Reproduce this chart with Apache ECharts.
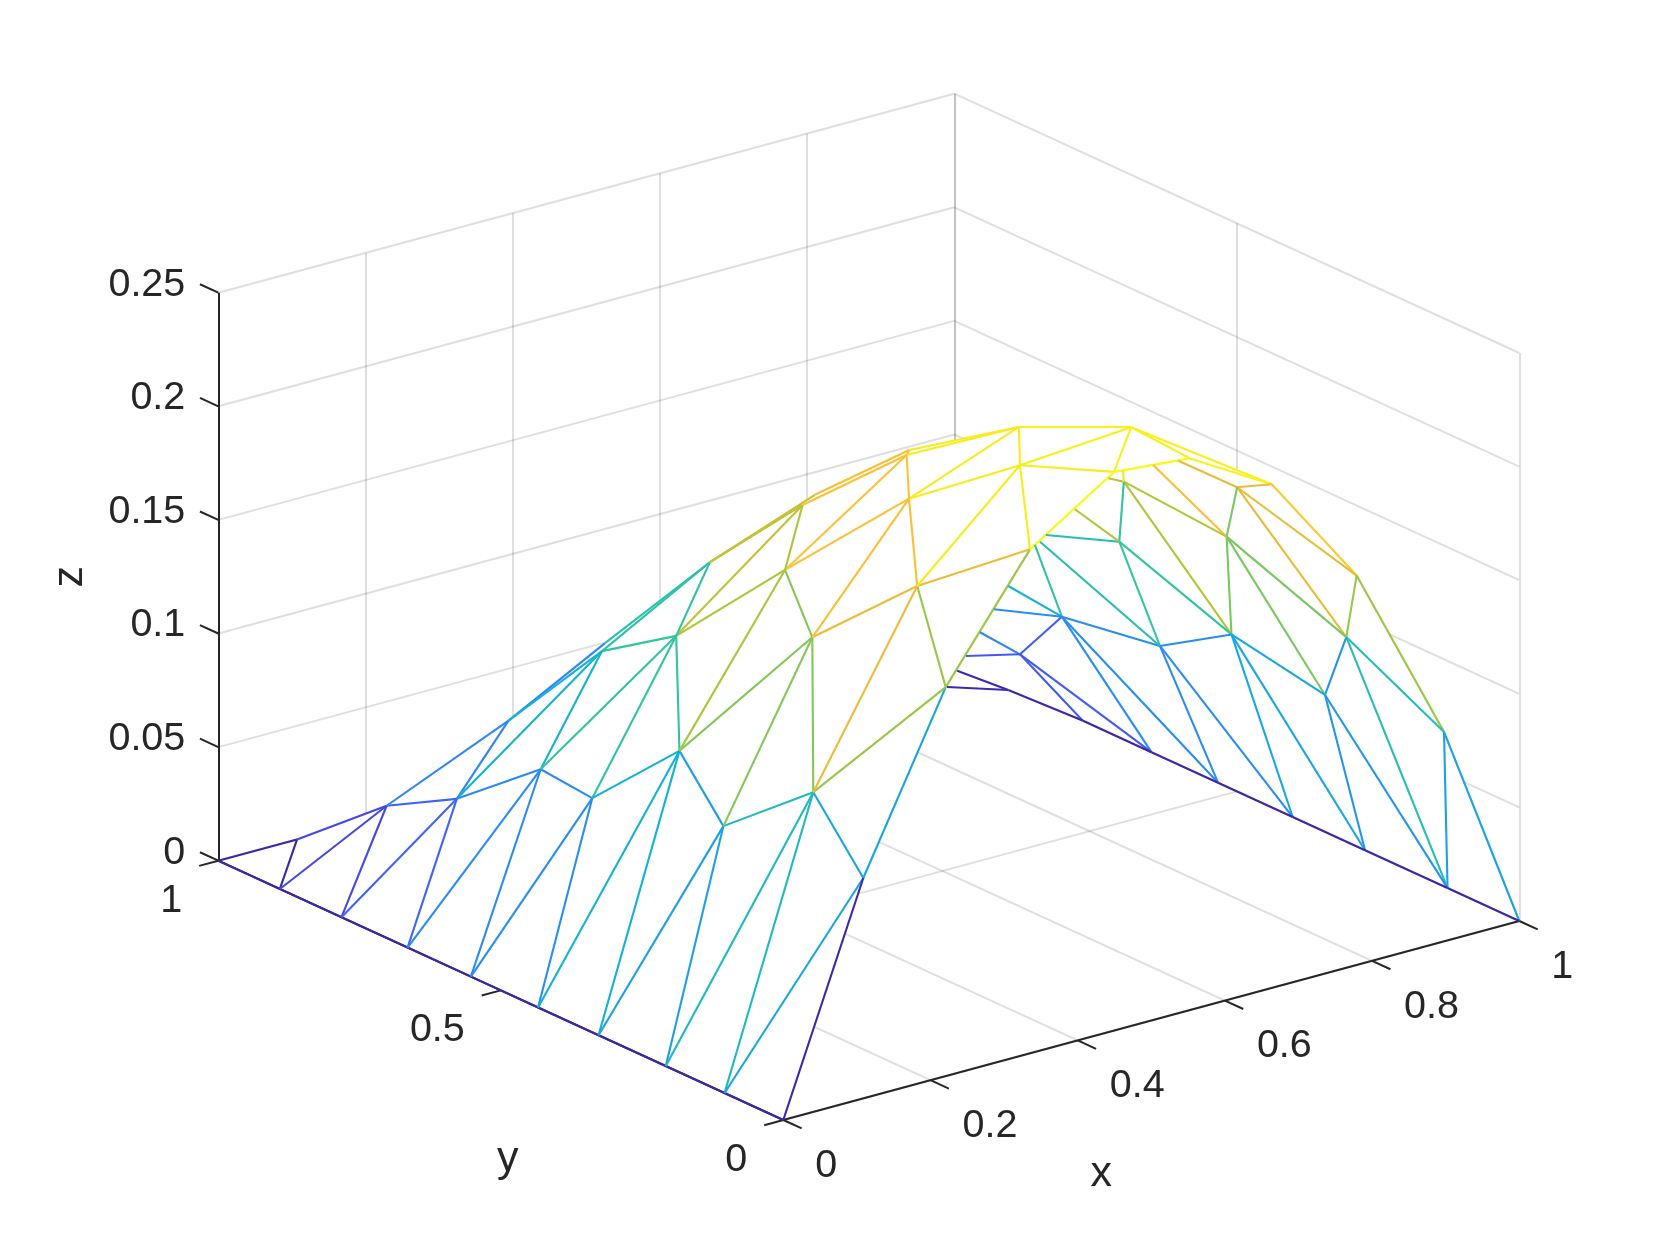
<!DOCTYPE html>
<html>
<head>
<meta charset="utf-8">
<title>mesh</title>
<script src="https://cdn.jsdelivr.net/npm/echarts@6/dist/echarts.min.js"></script>
<style>
html, body { margin: 0; padding: 0; background: #ffffff; }
#main1 { width: 1680px; height: 1260px; }
</style>
</head>
<body>
<div id="main1"></div>
<script>
// axis ticks
var xTicks = [0, 0.2, 0.4, 0.6, 0.8, 1];
var yTicks = [0, 0.5, 1];
var zTicks = [0, 0.05, 0.1, 0.15, 0.2, 0.25];
var xTickLabels = ['0', '0.2', '0.4', '0.6', '0.8', '1'];
var yTickLabels = ['0', '0.5', '1'];
var zTickLabels = ['0', '0.05', '0.1', '0.15', '0.2', '0.25'];

// mesh nodes (same index in all three)
var meshX = [0, 0.107, 0, 0, 0, 0, 0, 0, 0, 0, 0, 0.1087, 0.2207, 0.3352, 0.4493, 0.5526, 0.6636, 0.779, 0.8977, 1,
    1, 1, 1, 1, 1, 1, 0.9829, 0.132, 0.116, 0.217, 0.134, 0.112, 0.146, 0.109, 0.139, 0.355, 0.258, 0.236, 0.426,
    0.2278, 0.2825, 0.3771, 0.396, 0.2416, 0.3528, 0.4288, 0.4458, 0.4113, 0.483, 0.568,
    0.8964, 0.8563, 0.8886, 0.873, 0.9037, 0.854, 0.7822, 0.7097, 0.7185, 0.7869,
    0.7149, 0.7678, 0.7854, 0.6252, 0.7216, 0.7505, 0.7805, 0.8513, 0.977, 0.9298, 0.7115, 0.5069, 0.6266, 0.7194];
var meshY = [1, 1, 0.891, 0.782, 0.665, 0.553, 0.434, 0.327, 0.208, 0.104, 0, 0, 0, 0, 0, 0, 0, 0, 0, 0,
    0.127, 0.273, 0.401, 0.533, 0.651, 0.773, 0.8822, 0.874, 0.729, 0.769, 0.604, 0.484, 0.374, 0.248, 0.128, 0.778, 0.657, 0.497, 0.685,
    0.2454, 0.365, 0.4571, 0.46, 0.0777, 0.2371, 0.3402, 0.3578, 0.1169, 0.2122, 0.1242,
    0.7488, 0.6224, 0.4909, 0.344, 0.2184, 0.116, 0.2343, 0.1212, 0.3332, 0.4304,
    0.486, 0.5458, 0.5583, 0.2983, 0.5419, 0.605, 0.6686, 0.7856, 0.965, 0.9215, 0.3517, 0.0588, 0.1615, 0.2382];
var meshZ = [0, 0, 0, 0, 0, 0, 0, 0, 0, 0, 0, 0.097, 0.1712, 0.2218, 0.2459, 0.2428, 0.2217, 0.1714, 0.0922, 0,
    0, 0, 0, 0, 0, 0, 0.0025, 0.027, 0.048, 0.069, 0.0737, 0.0766, 0.107, 0.0915, 0.1175, 0.09, 0.1088, 0.1357, 0.13,
    0.1645, 0.1757, 0.1855, 0.188, 0.205, 0.2155, 0.2163, 0.215, 0.2388, 0.2385, 0.241,
    0.041, 0.0755, 0.0748, 0.098, 0.083, 0.1245, 0.1615, 0.2025, 0.18, 0.1365,
    0.135, 0.125, 0.125, 0.18, 0.11, 0.09, 0.07, 0.04, 0.002, 0.004, 0.18, 0.235, 0.215, 0.2];

// mesh edges, the first node gives the colour of the edge
var meshEdges = [
    [0, 2], [2, 3], [3, 4], [4, 5], [5, 6], [6, 7], [7, 8], [8, 9], [9, 10],
    [0, 1], [1, 2], [27, 1], [27, 2], [27, 3], [28, 27], [28, 3], [28, 4],
    [29, 28], [29, 27], [29, 35], [36, 29], [36, 28], [36, 30], [30, 28], [30, 4], [30, 5],
    [31, 5], [31, 6], [30, 31], [37, 30], [37, 31], [32, 31], [32, 6], [32, 7],
    [33, 7], [33, 8], [33, 32], [34, 8], [34, 9], [11, 9], [11, 34], [34, 33], [10, 11], [11, 12],
    [12, 34], [12, 13], [12, 43], [39, 34], [43, 34], [39, 33], [39, 32], [37, 32], [40, 32], [39, 40],
    [43, 39], [44, 39], [44, 43], [43, 13], [47, 43], [47, 44], [48, 44], [45, 44], [44, 40], [45, 40],
    [40, 41], [40, 37], [41, 37], [37, 38], [37, 36], [38, 35], [38, 36], [41, 38], [42, 38],
    [45, 41], [46, 42], [45, 46], [48, 45], [48, 46], [47, 48], [49, 47], [49, 48], [49, 14], [47, 14], [47, 13],
    [14, 13], [14, 15], [49, 15], [49, 16], [15, 16], [16, 17], [17, 18], [18, 19], [18, 20],
    [57, 16], [57, 17], [57, 55], [57, 73], [56, 57], [17, 55], [55, 18], [55, 20], [54, 55],
    [56, 53], [56, 55], [56, 54], [72, 56], [58, 56], [58, 53], [59, 58], [58, 70], [71, 58],
    [62, 59], [63, 59], [59, 52], [59, 53], [60, 51], [64, 51], [51, 65], [50, 51], [51, 52], [51, 24], [51, 23],
    [61, 52], [52, 53], [52, 23], [52, 22], [53, 22], [53, 21], [53, 54], [54, 21], [54, 20],
    [66, 50], [67, 50], [50, 25], [50, 24], [26, 69], [26, 68], [25, 26],
    [19, 20], [20, 21], [21, 22], [22, 23], [23, 24], [24, 25]
];

// outline of the whole surface, its white faces hide the grid behind
var meshOutline = [0, 1, 27, 29, 35, 38, 42, 46, 48, 49, 16, 17, 18, 19, 20, 21, 22, 23, 24, 25, 26, 68, 12, 11, 10, 9, 8, 7, 6, 5, 4, 3, 2];

var parula = ['#3e26a8', '#4852f4', '#2d87f6', '#12b1d6', '#37c897', '#abc738', '#fbb93a', '#f9fb14'];
var zMax = 0.247;

// view of the box on the page
function project(x, y, z) {
    return [783.3 + 736 * x - 565 * y, 1120 - 199 * x - 259.3 * y - 2272 * z];
}

function seg(a, b, color) {
    return {
        coords: [project(a[0], a[1], a[2]), project(b[0], b[1], b[2])],
        lineStyle: color ? { color: color } : undefined
    };
}

var gridData = [];
xTicks.forEach(function(x) {
    gridData.push(seg([x, 0, 0], [x, 1, 0]));
    gridData.push(seg([x, 1, 0], [x, 1, 0.25]));
});
yTicks.forEach(function(y) {
    gridData.push(seg([0, y, 0], [1, y, 0]));
    gridData.push(seg([1, y, 0], [1, y, 0.25]));
});
zTicks.forEach(function(z) {
    gridData.push(seg([0, 1, z], [1, 1, z]));
    gridData.push(seg([1, 1, z], [1, 0, z]));
});

var axisData = [
    seg([0, 0, 0], [1, 0, 0]),
    seg([0, 0, 0], [0, 1, 0]),
    seg([0, 1, 0], [0, 1, 0.25])
];
xTicks.forEach(function(x) {
    axisData.push(seg([x, 0, 0], [x, -0.0325, 0]));
});
yTicks.forEach(function(y) {
    axisData.push(seg([0, y, 0], [-0.026, y, 0]));
});
zTicks.forEach(function(z) {
    axisData.push(seg([0, 1, z], [0, 1.0325, z]));
});

var meshData = meshEdges.map(function(e) {
    var t = Math.min(meshZ[e[0]] / zMax, 1);
    return seg(
        [meshX[e[0]], meshY[e[0]], meshZ[e[0]]],
        [meshX[e[1]], meshY[e[1]], meshZ[e[1]]],
        echarts.color.lerp(t, parula)
    );
});

var texts = [];
xTicks.forEach(function(x, i) {
    var p = project(x, 0, 0);
    texts.push({ text: xTickLabels[i], x: p[0] + 32, y: p[1] + 46, align: 'left', size: 39.5 });
});
yTicks.forEach(function(y, i) {
    var p = project(0, y, 0);
    texts.push({ text: yTickLabels[i], x: p[0] - 36, y: p[1] + 40, align: 'right', size: 39.5 });
});
zTicks.forEach(function(z, i) {
    var p = project(0, 1, z);
    texts.push({ text: zTickLabels[i], x: p[0] - 33, y: p[1] - 8, align: 'right', size: 39.5 });
});
var xName = project(0.5, 0, 0);
var yName = project(0, 0.5, 0);
var zName = project(0, 1, 0.125);
texts.push({ text: 'x', x: xName[0] - 50, y: xName[1] + 154, align: 'center', size: 43 });
texts.push({ text: 'y', x: yName[0] + 7, y: yName[1] + 169, align: 'center', size: 43 });
texts.push({ text: 'z', x: zName[0] - 148, y: zName[1], align: 'center', size: 43, rotation: Math.PI / 2 });

var myChart = echarts.init(document.getElementById('main1'));

var option = {
    backgroundColor: '#ffffff',
    animation: false,
    grid: { left: 0, right: 0, top: 0, bottom: 0 },
    xAxis: { type: 'value', min: 0, max: 1680, show: false },
    yAxis: { type: 'value', min: 0, max: 1260, inverse: true, show: false },
    series: [{
        type: 'lines',
        coordinateSystem: 'cartesian2d',
        z: 1,
        silent: true,
        lineStyle: { color: 'rgba(38,38,38,0.15)', width: 2, opacity: 1 },
        data: gridData
    }, {
        type: 'custom',
        coordinateSystem: 'cartesian2d',
        z: 2,
        silent: true,
        data: [0],
        renderItem: function(params, api) {
            var points = meshOutline.map(function(i) {
                return api.coord(project(meshX[i], meshY[i], meshZ[i]));
            });
            return { type: 'polygon', shape: { points: points }, style: { fill: '#ffffff' } };
        }
    }, {
        type: 'lines',
        coordinateSystem: 'cartesian2d',
        z: 3,
        silent: true,
        lineStyle: { color: '#262626', width: 2, opacity: 1 },
        data: axisData
    }, {
        type: 'lines',
        coordinateSystem: 'cartesian2d',
        z: 4,
        silent: true,
        lineStyle: { width: 2.1, opacity: 1 },
        data: meshData
    }, {
        type: 'custom',
        coordinateSystem: 'cartesian2d',
        z: 5,
        silent: true,
        data: texts.map(function(t, i) { return i; }),
        renderItem: function(params, api) {
            var t = texts[params.dataIndex];
            var pos = api.coord([t.x, t.y]);
            return {
                type: 'text',
                x: pos[0],
                y: pos[1],
                rotation: t.rotation || 0,
                style: {
                    text: t.text,
                    fill: '#262626',
                    fontFamily: 'Liberation Sans',
                    fontSize: t.size,
                    align: t.align,
                    verticalAlign: 'middle'
                }
            };
        }
    }]
};

myChart.setOption(option);
</script>
</body>
</html>
